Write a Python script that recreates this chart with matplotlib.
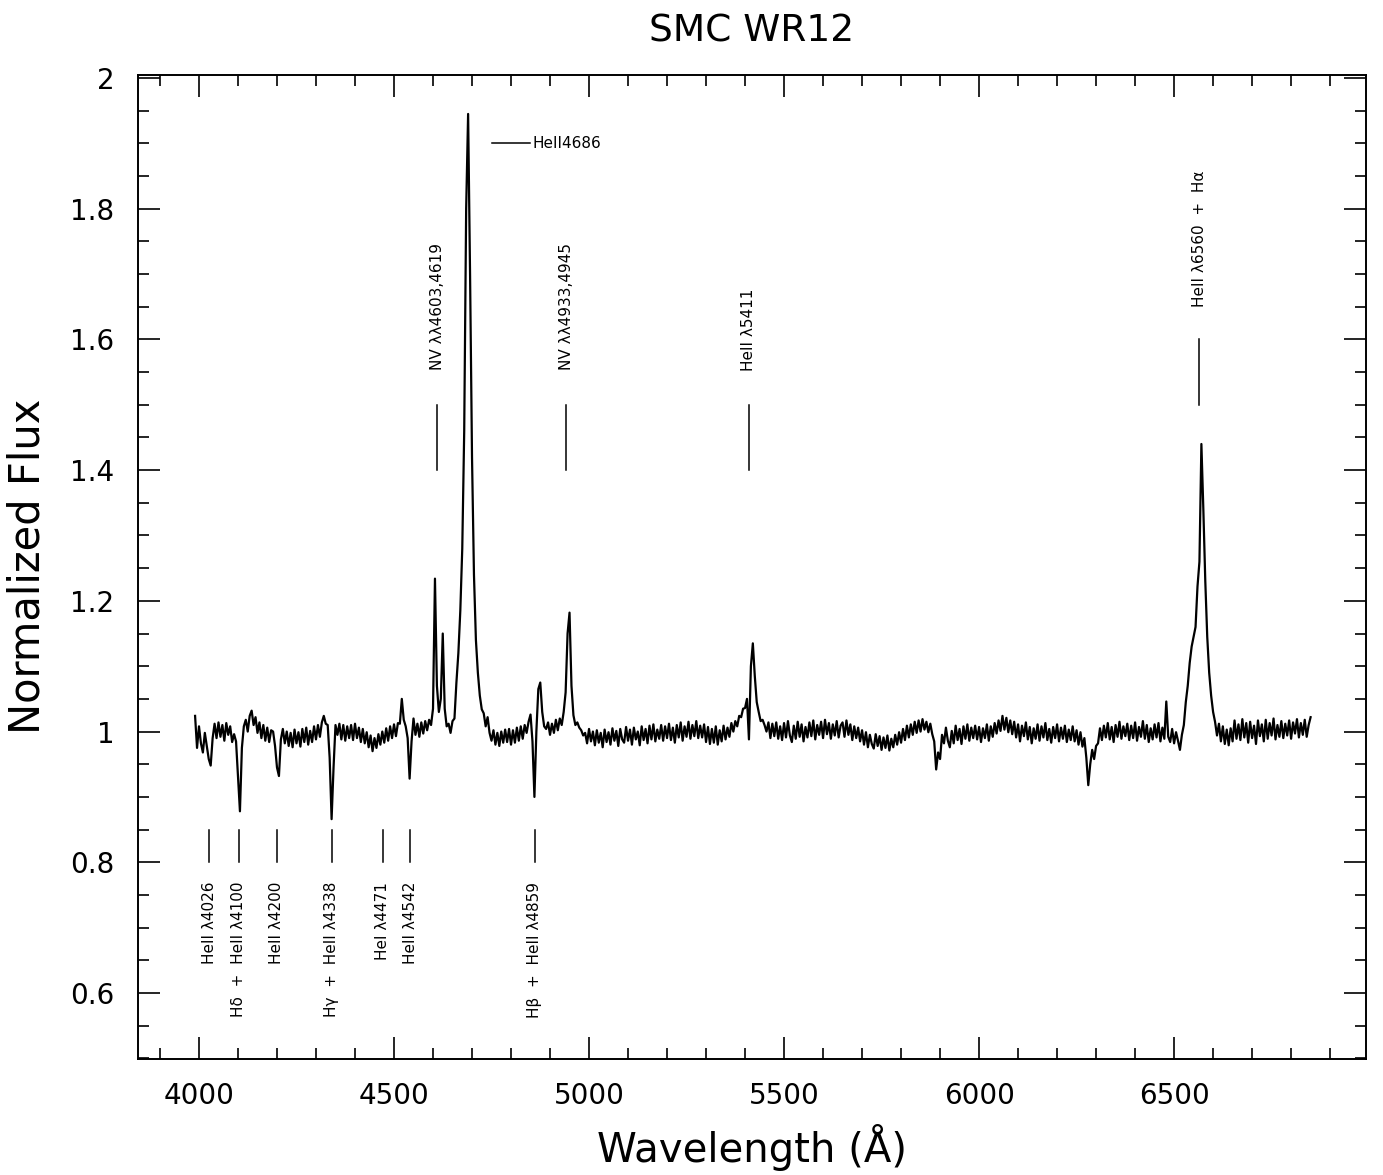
#!/usr/bin/env python3
import numpy as np
import matplotlib
matplotlib.use("Agg")
import matplotlib.pyplot as plt
from matplotlib.ticker import MultipleLocator, FuncFormatter

# Spectrum sampled every 5 A from 3990 A; each row covers 100 A
WAVE_START = 3990
WAVE_STEP = 5
FLUX_ROWS = [
    [1.024, 0.975, 1.008, 0.982, 0.968, 0.998, 0.978, 0.958, 0.948, 0.990, 1.012, 0.990, 1.014, 0.992, 1.010, 0.986, 1.013, 0.995, 1.008, 0.984],
    [0.996, 0.985, 0.930, 0.878, 0.975, 1.008, 1.018, 1.000, 1.024, 1.032, 1.010, 1.022, 0.998, 1.014, 0.990, 1.010, 0.986, 1.006, 0.984, 1.002],
    [1.000, 0.978, 0.945, 0.932, 0.988, 1.004, 0.982, 1.000, 0.978, 0.998, 0.976, 1.003, 0.982, 0.999, 0.977, 1.004, 0.984, 1.006, 0.980, 1.001],
    [0.984, 1.008, 0.988, 1.010, 0.992, 1.014, 1.024, 1.012, 1.010, 0.960, 0.866, 0.945, 1.010, 0.995, 1.012, 0.988, 1.010, 0.986, 1.008, 0.990],
    [1.010, 0.987, 1.012, 0.990, 1.006, 0.984, 1.004, 0.982, 0.999, 0.976, 0.994, 0.970, 0.990, 0.975, 0.996, 0.980, 1.000, 0.983, 1.005, 0.986],
    [1.008, 0.990, 1.011, 0.993, 1.013, 1.012, 1.050, 1.018, 1.008, 0.990, 0.928, 0.985, 1.020, 0.995, 1.012, 0.992, 1.014, 0.997, 1.016, 1.002],
    [1.018, 1.010, 1.035, 1.234, 1.070, 1.030, 1.050, 1.150, 1.035, 1.008, 1.012, 0.998, 1.016, 1.020, 1.075, 1.120, 1.185, 1.280, 1.460, 1.800],
    [1.945, 1.700, 1.420, 1.240, 1.140, 1.090, 1.055, 1.034, 1.028, 1.008, 1.022, 0.998, 0.986, 1.002, 0.980, 0.998, 0.978, 1.000, 0.983, 1.003],
    [0.984, 1.004, 0.980, 1.002, 0.983, 1.006, 0.986, 1.008, 0.989, 1.010, 0.998, 1.015, 1.026, 0.985, 0.900, 1.000, 1.065, 1.075, 1.030, 1.008],
    [1.004, 1.014, 0.995, 1.012, 0.998, 1.018, 1.002, 1.020, 1.010, 1.030, 1.060, 1.150, 1.182, 1.070, 1.025, 1.010, 1.014, 1.006, 1.002, 0.994],
    [0.998, 0.982, 1.004, 0.985, 1.000, 0.979, 1.002, 0.983, 0.998, 0.976, 1.003, 0.984, 0.999, 0.980, 1.005, 0.986, 1.001, 0.978, 1.004, 0.988],
    [0.983, 1.007, 0.986, 1.003, 0.980, 1.006, 0.988, 1.000, 0.979, 1.008, 0.987, 1.004, 0.982, 1.009, 0.988, 1.011, 0.985, 1.003, 0.989, 1.010],
    [0.986, 1.008, 0.990, 1.012, 0.987, 1.006, 0.983, 1.010, 0.991, 1.014, 0.986, 1.008, 0.992, 1.015, 0.989, 1.010, 0.993, 1.016, 0.990, 1.009],
    [0.991, 1.011, 0.984, 1.007, 0.981, 1.004, 0.983, 1.008, 0.980, 1.002, 0.985, 1.009, 0.988, 1.006, 0.992, 1.013, 1.000, 1.016, 1.008, 1.024],
    [1.022, 1.035, 1.036, 1.050, 0.988, 1.100, 1.135, 1.085, 1.045, 1.030, 1.016, 1.018, 1.010, 1.000, 1.014, 0.990, 1.012, 0.993, 1.014, 0.989],
    [1.008, 0.987, 1.013, 0.991, 1.016, 0.994, 0.984, 1.009, 0.989, 1.015, 0.992, 1.011, 0.985, 1.007, 0.991, 1.014, 0.993, 1.017, 0.988, 1.010],
    [0.995, 1.015, 0.990, 1.018, 0.996, 1.013, 0.989, 1.011, 0.994, 1.016, 0.991, 1.009, 1.014, 0.992, 1.017, 0.995, 1.011, 0.987, 1.008, 0.990],
    [1.006, 0.985, 1.002, 0.980, 0.999, 0.976, 0.995, 0.981, 0.974, 0.996, 0.978, 0.993, 0.972, 0.991, 0.975, 0.994, 0.971, 0.989, 0.976, 0.995],
    [0.980, 0.999, 0.983, 1.004, 0.987, 1.009, 0.991, 1.011, 0.995, 1.015, 0.998, 1.017, 1.000, 1.019, 1.003, 1.015, 0.999, 1.012, 0.996, 0.985],
    [0.942, 0.968, 0.958, 0.995, 0.982, 1.006, 0.986, 0.976, 1.001, 0.982, 1.009, 0.987, 1.004, 0.981, 1.008, 0.989, 1.011, 0.986, 1.006, 0.990],
    [1.009, 0.988, 1.007, 0.984, 1.005, 0.990, 1.011, 0.986, 1.008, 0.992, 1.013, 0.997, 1.017, 1.001, 1.024, 1.003, 1.021, 0.999, 1.017, 0.996],
    [1.015, 0.991, 1.011, 0.985, 1.009, 0.993, 1.014, 0.988, 1.007, 0.982, 1.005, 0.989, 1.011, 0.986, 1.008, 0.991, 1.013, 0.987, 1.004, 0.983],
    [1.007, 0.990, 1.011, 0.985, 1.006, 0.989, 1.009, 0.984, 1.003, 0.987, 1.008, 0.985, 1.002, 0.980, 0.999, 0.977, 0.990, 0.960, 0.918, 0.950],
    [0.972, 0.958, 0.978, 0.982, 1.005, 0.987, 1.009, 0.991, 1.013, 0.988, 1.007, 0.984, 1.010, 0.992, 1.015, 0.989, 1.008, 0.993, 1.012, 0.987],
    [1.009, 0.990, 1.014, 0.986, 1.007, 0.992, 1.016, 0.989, 1.010, 0.984, 1.005, 0.988, 1.011, 0.991, 1.013, 0.985, 1.006, 0.989, 1.046, 0.992],
    [0.984, 1.004, 0.982, 0.999, 0.986, 0.972, 0.995, 1.010, 1.045, 1.070, 1.105, 1.130, 1.145, 1.160, 1.222, 1.260, 1.440, 1.340, 1.230, 1.145],
    [1.090, 1.055, 1.030, 1.015, 0.994, 1.012, 0.985, 1.008, 0.981, 1.003, 0.979, 1.005, 0.985, 1.017, 0.989, 1.011, 0.987, 1.019, 0.991, 1.013],
    [0.983, 1.015, 0.990, 1.009, 0.981, 1.017, 0.993, 1.011, 0.985, 1.018, 0.989, 1.013, 0.994, 1.020, 0.988, 1.010, 0.992, 1.016, 0.990, 1.012],
    [0.994, 1.017, 0.989, 1.014, 0.997, 1.019, 0.991, 1.013, 0.995, 1.018, 0.992, 1.010, 1.022],
]

# absorption lines marked below the spectrum
LOW_WAVE = [4026, 4102, 4200, 4340, 4471, 4542, 4861]
LOW_TEXT = ["HeII λ4026", "Hδ  +  HeII λ4100", "HeII λ4200", "Hγ  +  HeII λ4338",
            "HeI λ4471", "HeII λ4542", "Hβ  +  HeII λ4859"]

# emission lines marked above the spectrum
HIGH_WAVE = [4611, 4941, 5410, 6564]
HIGH_TEXT = ["NV λλ4603,4619", "NV λλ4933,4945", "HeII λ5411", "HeII λ6560  +  Hα"]
HIGH_LINE = [(1.40, 1.50), (1.40, 1.50), (1.40, 1.50), (1.50, 1.60)]
HIGH_TEXT_Y = [1.553, 1.553, 1.551, 1.650]


def main():
    plt.rcParams["font.family"] = ["DejaVu Sans"]

    for i, row in enumerate(FLUX_ROWS[:-1]):
        if len(row) != 20:
            print(f"row {i} has {len(row)} values")
    flux = [v for row in FLUX_ROWS for v in row]
    wave = WAVE_START + WAVE_STEP * np.arange(len(flux))

    fig = plt.figure(figsize=(13.83, 11.75), dpi=100)
    ax = fig.add_axes([0.0996, 0.0990, 0.8881, 0.8374])

    ax.plot(wave, flux, color="black", lw=1.6)

    for w, t in zip(LOW_WAVE, LOW_TEXT):
        ax.plot([w, w], [0.80, 0.85], color="black", lw=1.1)
        ax.text(w, 0.77, t, rotation=90, ha="center", va="top", fontsize=11)

    for w, t, (y0, y1), ty in zip(HIGH_WAVE, HIGH_TEXT, HIGH_LINE, HIGH_TEXT_Y):
        ax.plot([w, w], [y0, y1], color="black", lw=1.1)
        ax.text(w, ty, t, rotation=90, ha="center", va="bottom", fontsize=11)

    # HeII 4686 marker
    ax.plot([4751, 4849], [1.90, 1.90], color="black", lw=1.1)
    ax.text(4855, 1.90, "HeII4686", ha="left", va="center", fontsize=11)

    ax.set_xlim(3843, 6992)
    ax.set_ylim(0.4995, 2.005)
    ax.xaxis.set_major_locator(MultipleLocator(500))
    ax.xaxis.set_minor_locator(MultipleLocator(100))
    ax.yaxis.set_major_locator(MultipleLocator(0.2))
    ax.yaxis.set_minor_locator(MultipleLocator(0.05))
    ax.yaxis.set_major_formatter(FuncFormatter(lambda v, p: "" if v < 0.55 else f"{v:g}"))

    ax.tick_params(which="both", direction="in", top=True, right=True, width=1.2)
    ax.tick_params(which="major", length=16, labelsize=20)
    ax.tick_params(which="minor", length=8)
    ax.tick_params(axis="x", which="major", pad=17)
    ax.tick_params(axis="y", which="major", pad=17)
    for s in ax.spines.values():
        s.set_linewidth(1.4)

    ax.set_xlabel("Wavelength (Å)", fontsize=29)
    ax.xaxis.set_label_coords(0.5, -0.066)
    ax.set_ylabel("Normalized Flux", fontsize=30)
    ax.yaxis.set_label_coords(-0.073, 0.5)
    ax.set_title("SMC WR12", fontsize=27, pad=24)

    fig.savefig("out.png", dpi=100)


if __name__ == "__main__":
    main()
